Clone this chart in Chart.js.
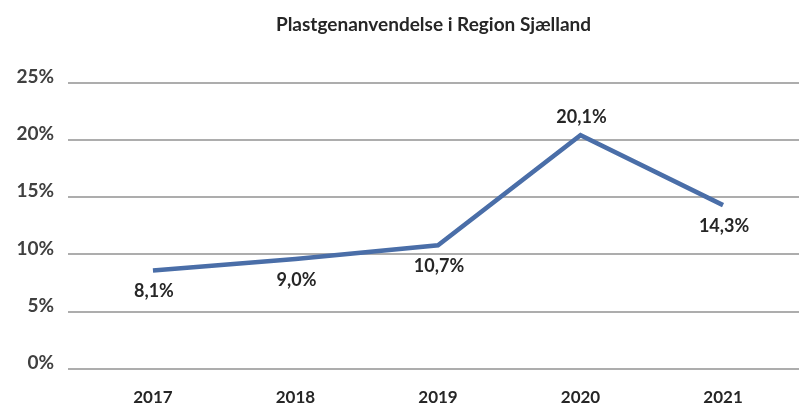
<!DOCTYPE html>
<html>
<head>
<meta charset="utf-8">
<script src="https://cdn.jsdelivr.net/npm/chart.js@4.4.1/dist/chart.umd.min.js"></script>
<style>
  html, body { margin: 0; padding: 0; background: #fff; }
  #wrap { width: 799px; height: 403px; }
</style>
</head>
<body>
<div id="wrap"><canvas id="c" width="799" height="403"></canvas></div>
<script>
// values
const TITLE = 'Plastgenanvendelse i Region Sjælland';
const YEARS = ['2017', '2018', '2019', '2020', '2021'];
const SHARE = [8.6, 9.6, 10.8, 20.4, 14.3];          // plotted line, %
const SHARE_LABELS = ['8,1%', '9,0%', '10,7%', '20,1%', '14,3%'];
const Y_TICKS = [0, 5, 10, 15, 20, 25];

const FONT = "Lato, 'Open Sans', sans-serif";
const TEXT = '#262626';

// title centred over the plot area, like the original
const titlePlugin = {
  id: 'plotTitle',
  afterDraw(chart) {
    const { ctx, chartArea } = chart;
    ctx.save();
    ctx.font = `bold 19px ${FONT}`;
    ctx.fillStyle = TEXT;
    ctx.textAlign = 'center';
    ctx.textBaseline = 'middle';
    ctx.fillText(TITLE, (chartArea.left + chartArea.right) / 2, 25);
    ctx.restore();
  },
};

// value labels: peak above the line, the rest below
const valueLabels = {
  id: 'valueLabels',
  afterDatasetsDraw(chart) {
    const { ctx } = chart;
    const pts = chart.getDatasetMeta(0).data;
    const peak = SHARE.indexOf(Math.max(...SHARE));
    ctx.save();
    ctx.font = `bold 18px ${FONT}`;
    ctx.fillStyle = TEXT;
    ctx.textAlign = 'center';
    ctx.textBaseline = 'middle';
    pts.forEach((p, i) => {
      const dy = i === peak ? -18 : 21;
      ctx.fillText(SHARE_LABELS[i], p.x + 1, p.y + dy);
    });
    ctx.restore();
  },
};

new Chart(document.getElementById('c'), {
  type: 'line',
  data: {
    datasets: [{
      data: SHARE.map((v, i) => ({ x: i, y: v })),
      borderColor: '#4A6EA8',
      borderWidth: 4.5,
      pointRadius: 0,
      tension: 0,
      fill: false,
    }],
  },
  options: {
    responsive: false,
    animation: false,
    layout: { padding: { top: 82.5, right: 0, bottom: 0, left: 0 } },
    plugins: { legend: { display: false }, tooltip: { enabled: false }, title: { display: false } },
    scales: {
      x: {
        type: 'linear',
        min: -0.596,
        max: 4.533,
        grid: { display: false },
        border: { display: false },
        afterBuildTicks: (axis) => { axis.ticks = YEARS.map((_, i) => ({ value: i })); },
        afterFit: (axis) => { axis.height = 34; },
        ticks: {
          autoSkip: false,
          maxRotation: 0,
          padding: 10,
          color: TEXT,
          font: { family: FONT, size: 17, weight: 'bold' },
          callback: (v) => YEARS[v] ?? '',
        },
      },
      y: {
        min: 0,
        max: 25,
        afterBuildTicks: (axis) => { axis.ticks = Y_TICKS.map(v => ({ value: v })); },
        afterFit: (axis) => { axis.width = 68; },
        grid: { color: '#ADADAD', lineWidth: 2, drawTicks: false },
        border: { display: false },
        ticks: {
          padding: 14,
          labelOffset: -6,
          color: '#404040',
          font: { family: FONT, size: 19, weight: 'bold' },
          callback: (v) => v + '%',
        },
      },
    },
  },
  plugins: [titlePlugin, valueLabels],
});
</script>
</body>
</html>
